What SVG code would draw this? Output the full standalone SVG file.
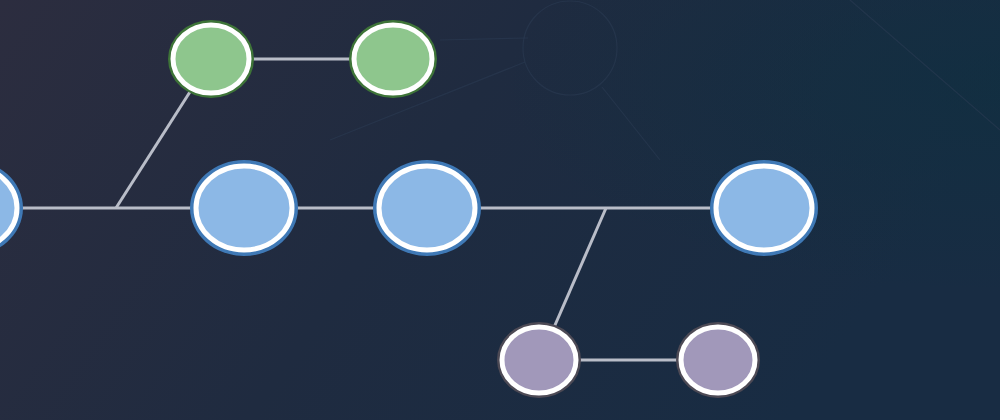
<svg xmlns="http://www.w3.org/2000/svg" width="1000" height="420" viewBox="0 0 1000 420">
<defs>
<linearGradient id="bg" x1="0" y1="0" x2="1" y2="0.3">
<stop offset="0" stop-color="#2c2d3f"/>
<stop offset="0.5" stop-color="#1f2b40"/>
<stop offset="1" stop-color="#182c43"/>
</linearGradient>
<radialGradient id="glow" cx="1" cy="0.2" r="0.5">
<stop offset="0" stop-color="#0e3040" stop-opacity="0.6"/>
<stop offset="1" stop-color="#0e3040" stop-opacity="0"/>
</radialGradient>
<style>
.edge{stroke:#b9bdc8;stroke-width:3;fill:none}
.deco{stroke:#2b3c53;stroke-width:1.2;fill:none;opacity:0.55}
.ring{stroke:#ffffff;stroke-width:5}
.blue .out{fill:#3f79b6}
.blue .in{fill:#8cb8e6}
.green .out{fill:#3e7438}
.green .in{fill:#8ec68d}
.purple .out{fill:#4d4a55}
.purple .in{fill:#a198ba}
</style>
</defs>
<rect width="1000" height="420" fill="url(#bg)"/>
<rect width="1000" height="420" fill="url(#glow)"/>
<g id="background-decor">
<circle cx="570" cy="48" r="47" class="deco" stroke-width="4"/>
<line x1="525" y1="62" x2="330" y2="140" class="deco"/>
<line x1="528" y1="38" x2="440" y2="40" class="deco"/>
<line x1="602" y1="87" x2="660" y2="160" class="deco"/>
<line x1="850" y1="0" x2="1000" y2="130" class="deco" stroke="#33506a"/>
</g>
<g id="connectors">
<line x1="0" y1="208" x2="710" y2="208" class="edge"/>
<line x1="116" y1="208" x2="195" y2="84" class="edge"/>
<line x1="211" y1="59" x2="393" y2="59" class="edge"/>
<line x1="606" y1="208" x2="552" y2="332" class="edge"/>
<line x1="539" y1="360" x2="717" y2="360" class="edge"/>
</g>
<g id="node-main-0" class="blue">
<ellipse cx="-31" cy="208" rx="54" ry="48" class="out"/>
<ellipse cx="-31" cy="208" rx="48" ry="42" class="in ring"/>
</g>
<g id="node-main-1" class="blue">
<ellipse cx="244" cy="208" rx="54" ry="48" class="out"/>
<ellipse cx="244" cy="208" rx="48" ry="42" class="in ring"/>
</g>
<g id="node-main-2" class="blue">
<ellipse cx="427" cy="208" rx="54" ry="48" class="out"/>
<ellipse cx="427" cy="208" rx="48" ry="42" class="in ring"/>
</g>
<g id="node-main-3" class="blue">
<ellipse cx="764" cy="208" rx="54" ry="48" class="out"/>
<ellipse cx="764" cy="208" rx="48" ry="42" class="in ring"/>
</g>
<g id="node-green-1" class="green">
<ellipse cx="211" cy="59" rx="43" ry="39" class="out"/>
<ellipse cx="211" cy="59" rx="38" ry="34" class="in ring"/>
</g>
<g id="node-green-2" class="green">
<ellipse cx="393" cy="59" rx="44" ry="39" class="out"/>
<ellipse cx="393" cy="59" rx="39" ry="34" class="in ring"/>
</g>
<g id="node-purple-1" class="purple">
<ellipse cx="539" cy="360" rx="42" ry="38" class="out"/>
<ellipse cx="539" cy="360" rx="37" ry="33" class="in ring"/>
</g>
<g id="node-purple-2" class="purple">
<ellipse cx="718" cy="360" rx="42" ry="38" class="out"/>
<ellipse cx="718" cy="360" rx="37" ry="33" class="in ring"/>
</g>
</svg>
